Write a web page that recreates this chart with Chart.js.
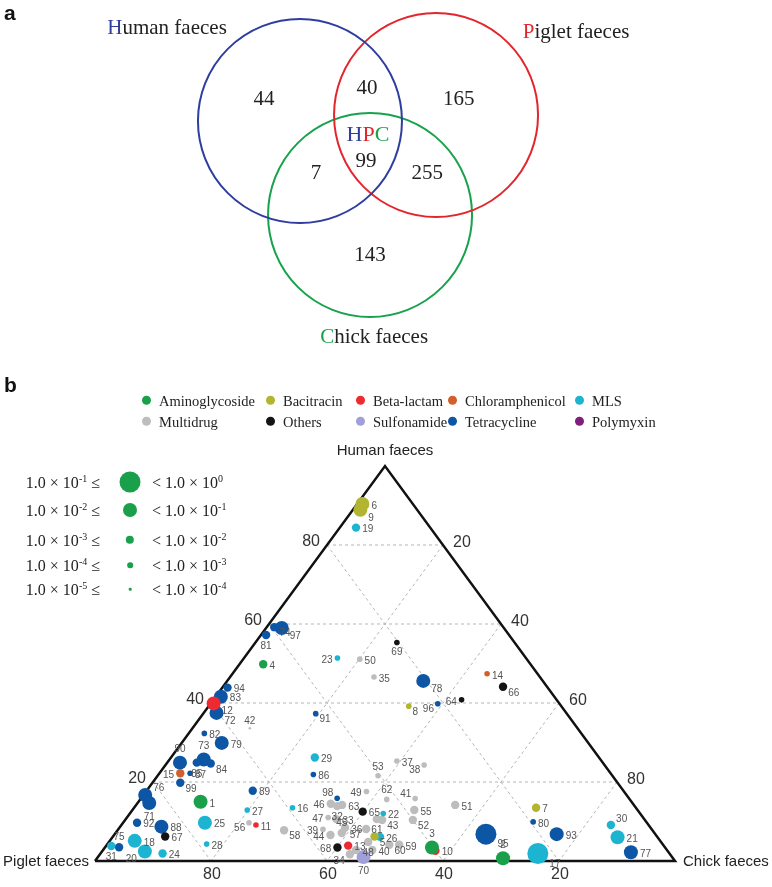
<!DOCTYPE html>
<html>
<head>
<meta charset="utf-8">
<script src="https://cdn.jsdelivr.net/npm/chart.js"></script>
<style>
  html, body { margin: 0; padding: 0; background: #fff; }
  #page { position: relative; width: 772px; height: 887px; overflow: hidden; }
  canvas { position: absolute; left: 0; }
  #venn { top: 0; }
  #tern { top: 360px; }
  .panel { position: absolute; left: 4px; font: bold 21px "Liberation Sans", Arial, sans-serif; color: #111; line-height: 1; }
  .cat { position: absolute; font: 14.5px "Liberation Serif", "Times New Roman", serif; color: #222; white-space: nowrap; line-height: 1; transform: translateY(-50%); }
  .cat i { display: inline-block; width: 9px; height: 9px; border-radius: 50%; margin-right: 8px; vertical-align: 1px; }
  .size { position: absolute; font: 16px "Liberation Serif", "Times New Roman", serif; color: #222; white-space: nowrap; line-height: 1; transform: translateY(-50%); }
  .size sup { font-size: 10px; vertical-align: 6px; }
  .dot { position: absolute; border-radius: 50%; transform: translate(-50%, -50%); }
</style>
</head>
<body>
<div id="page">
  <canvas id="venn" width="772" height="360"></canvas>
  <canvas id="tern" width="772" height="527"></canvas>
  <div class="panel" style="top:2px">a</div>
  <div class="panel" style="top:374px">b</div>
  <div id="legend"></div>
</div>
<script>
// ---------- data ----------
const vennSets = ['Human faeces', 'Piglet faeces', 'Chick faeces'];
const vennRegions = ['H', 'HP', 'P', 'HPC', 'HC', 'PC', 'C'];
const vennCounts = [44, 40, 165, 99, 7, 255, 143];

const categories = ['Aminoglycoside', 'Bacitracin', 'Beta-lactam', 'Chloramphenicol', 'MLS',
                    'Multidrug', 'Others', 'Sulfonamide', 'Tetracycline', 'Polymyxin'];
const categoryColors = ['#1a9f4b', '#b2b530', '#ec2a30', '#d1602c', '#1db4d2',
                        '#bdbdbd', '#141414', '#a19fd9', '#0d56a6', '#7e1f7b'];

// shared ARGs 1..99 : category index, relative abundance (%) in each faeces type
const argCategory = [
  0,0,0,0,1,1,1,1,1,2,
  2,2,2,3,3,4,4,4,4,4,
  4,4,4,4,4,4,4,4,4,4,
  4,5,5,5,5,5,5,5,5,5,
  5,5,5,5,5,5,5,5,5,5,
  5,5,5,5,5,5,5,5,5,5,
  5,5,5,6,6,6,6,6,6,7,
  8,8,8,8,8,8,8,8,8,8,
  8,8,8,8,8,8,8,8,8,8,
  8,8,8,8,8,8,8,8,8];
const humanPct = [
  15.0, 0.7, 3.4, 49.8, 6.2, 90.4, 13.5, 39.2, 88.9, 2.6,
  9.1, 39.9, 3.9, 47.4, 22.2, 13.5, 1.9, 5.1, 84.4, 2.4,
  6.0, 12.0, 51.4, 1.9, 9.7, 6.1, 12.9, 4.3, 26.2, 9.1,
  3.8, 13.9, 10.6, 1.7, 46.6, 8.4, 25.3, 24.3, 8.0, 2.8,
  15.8, 33.6, 10.4, 6.6, 7.1, 14.5, 11.0, 4.8, 17.6, 51.1,
  14.2, 10.4, 21.6, 2.8, 12.9, 9.7, 8.1, 7.8, 4.1, 4.1,
  10.6, 15.6, 14.2, 40.8, 12.5, 44.1, 6.2, 3.4, 55.3, 1.0,
  14.7, 37.5, 25.7, 59.2, 3.5, 16.7, 2.2, 45.6, 29.9, 9.9,
  57.2, 32.3, 41.6, 24.7, 24.9, 21.9, 22.2, 8.7, 17.8, 24.9,
  37.3, 9.7, 6.8, 43.9, 6.8, 39.8, 59.0, 15.9, 19.8];
const pigletPct = [
  74.3, 29.3, 40.2, 46.1, 48.7, 8.7, 17.2, 26.3, 9.8, 40.0,
  67.7, 59.6, 54.4, 8.7, 74.2, 59.2, 22.7, 90.6, 12.8, 90.2,
  6.9, 44.3, 32.5, 87.4, 76.2, 47.8, 67.3, 78.6, 49.0, 6.5,
  95.3, 51.3, 53.1, 55.2, 28.6, 52.7, 35.3, 31.1, 56.7, 50.8,
  36.9, 56.5, 45.3, 56.1, 53.9, 52.1, 54.3, 50.5, 44.4, 28.8,
  30.8, 40.0, 40.4, 53.6, 38.5, 68.6, 49.2, 63.5, 45.5, 47.2,
  46.1, 41.9, 50.3, 16.4, 47.6, 7.6, 84.8, 56.5, 20.3, 53.2,
  83.3, 60.3, 68.4, 39.5, 94.1, 83.0, 6.5, 20.6, 63.2, 19.5,
  41.9, 65.0, 57.5, 67.7, 70.0, 51.4, 72.5, 84.2, 63.9, 72.9,
  43.3, 87.9, 17.0, 55.2, 29.2, 21.0, 38.3, 50.3, 75.4];
const chickPct = [
  10.7, 70.0, 56.4, 4.1, 45.1, 0.9, 69.3, 34.5, 1.3, 57.4,
  23.2, 0.5, 41.7, 43.9, 3.6, 27.3, 75.4, 4.3, 2.8, 7.4,
  87.1, 43.7, 16.1, 10.7, 14.1, 46.1, 19.8, 17.1, 24.8, 84.4,
  0.9, 34.8, 36.3, 43.1, 24.8, 38.9, 39.4, 44.6, 35.3, 46.4,
  47.3, 9.9, 44.3, 37.3, 39.0, 33.4, 34.7, 44.7, 38.0, 20.1,
  55.0, 49.6, 38.0, 43.6, 48.6, 21.7, 42.7, 28.7, 50.4, 48.7,
  43.3, 42.5, 35.5, 42.8, 39.9, 48.3, 9.0, 40.1, 24.4, 45.8,
  2.0, 2.2, 5.9, 1.3, 2.4, 0.3, 91.3, 33.8, 6.9, 70.6,
  0.9, 2.7, 0.9, 7.6, 5.1, 26.7, 5.3, 7.1, 18.3, 2.2,
  19.4, 2.4, 76.2, 0.9, 64.0, 39.2, 2.7, 33.8, 4.8];
// abundance class: 1 = [1e-1,1e0), 2 = [1e-2,1e-1), ... 5 = [1e-5,1e-4)
const abundanceClass = [
  2,2,2,3,3,2,3,4,2,3,
  4,2,3,4,3,4,1,2,3,2,
  2,4,4,3,2,3,4,4,3,3,
  3,3,3,3,4,3,4,4,4,3,
  4,5,3,3,3,3,4,3,4,4,
  3,3,4,3,3,4,3,3,3,3,
  3,4,3,4,3,3,3,3,4,2,
  2,2,2,3,3,2,2,2,2,4,
  3,4,2,3,3,4,4,2,3,2,
  4,3,2,3,1,4,2,4,3];
const sizeClassExp = [['-1', '0'], ['-2', '-1'], ['-3', '-2'], ['-4', '-3'], ['-5', '-4']];
const axisTicks = [20, 40, 60, 80];
const ternTitles = ['Human faeces', 'Piglet faeces', 'Chick faeces'];

// ---------- styles / layout ----------
const sizeRadius = [10.5, 7, 4.2, 2.8, 1.3];
const vennColors = ['#2f3e9e', '#e3262d', '#17a24b'];
const serif = '"Liberation Serif", "Times New Roman", serif';
const sans = '"Liberation Sans", Arial, sans-serif';
const labelSide = {2:'t',3:'t',5:'rb',8:'rb',9:'rb',12:'rb',15:'l',17:'rb',20:'lb',23:'l',30:'rt',31:'b',
  32:'b',34:'lb',38:'lb',39:'l',41:'lt',42:'t',43:'rb',44:'l',45:'t',46:'l',47:'l',48:'b',49:'l',52:'rb',
  53:'t',54:'none',56:'lb',57:'lb',58:'rb',60:'rb',61:'b',62:'t',64:'l',66:'rb',68:'l',69:'b',70:'b',71:'b',
  72:'rb',73:'t',74:'rb',75:'t',76:'rt',78:'rb',81:'b',84:'rb',85:'b',90:'t',91:'rb',95:'rb',96:'lb',97:'rb',
  98:'lt',99:'rb'};

const baseOpts = (xmin, xmax, ymin, ymax) => ({
  responsive: false,
  animation: false,
  events: [],
  layout: { padding: 0, autoPadding: false },
  plugins: { legend: { display: false }, tooltip: { enabled: false } },
  scales: {
    x: { type: 'linear', display: false, min: xmin, max: xmax },
    y: { type: 'linear', display: false, min: ymin, max: ymax }
  }
});

function drawParts(ctx, parts, cx, cy) {
  const w = parts.reduce((s, p) => s + ctx.measureText(p[0]).width, 0);
  let x = cx - w / 2;
  ctx.textAlign = 'left';
  parts.forEach(p => { ctx.fillStyle = p[1]; ctx.fillText(p[0], x, cy); x += ctx.measureText(p[0]).width; });
}

// ---------- venn (units: circle radius = 1) ----------
const VU = 102;
const vennCenters = [[-0.667, 0.284], [0.667, 0.343], [0.02, -0.637]];
const regionAnchor = { H: [-1.02, 0.5], HP: [-0.01, 0.6], P: [0.89, 0.5], HPC: [-0.02, -0.11],
                       HC: [-0.51, -0.235], PC: [0.58, -0.235], C: [0.02, -1.03] };
const setAnchor = [[-1.97, 1.19], [2.04, 1.15], [0.06, -1.84]];

const vennPlugin = {
  id: 'vennText',
  afterDatasetsDraw(chart) {
    const { ctx, scales: { x, y } } = chart;
    const P = (a) => [x.getPixelForValue(a[0]), y.getPixelForValue(a[1])];
    ctx.save();
    ctx.textBaseline = 'middle';
    ctx.font = '21px ' + serif;
    vennSets.forEach((name, i) => {
      const [px, py] = P(setAnchor[i]);
      drawParts(ctx, [[name[0], vennColors[i]], [name.slice(1), '#222']], px, py);
    });
    vennRegions.forEach((r, i) => {
      const [px, py] = P(regionAnchor[r]);
      ctx.fillStyle = '#222'; ctx.textAlign = 'center';
      ctx.fillText(String(vennCounts[i]), px, py);
    });
    const [hx, hy] = P([0.0, 0.147]);
    ctx.font = '22px ' + serif;
    drawParts(ctx, [['H', vennColors[0]], ['P', vennColors[1]], ['C', vennColors[2]]], hx, hy);
    ctx.restore();
  }
};

new Chart(document.getElementById('venn'), {
  type: 'scatter',
  data: {
    datasets: vennSets.map((s, i) => ({
      label: s,
      data: [{ x: vennCenters[i][0], y: vennCenters[i][1] }],
      pointRadius: VU,
      pointBackgroundColor: 'rgba(0,0,0,0)',
      pointBorderColor: vennColors[i],
      pointBorderWidth: 2,
      clip: false
    }))
  },
  options: baseOpts(-368 / VU, 404 / VU, -210 / VU, 150 / VU),
  plugins: [vennPlugin]
});

// ---------- ternary ----------
// page pixels of the triangle: Piglet vertex x, Chick vertex x, base y, px per percent
const TRI = { left: 95, right: 675, base: 861, top: 360, hUnit: 3.95 };
const xUnit = (TRI.right - TRI.left) / 100;
const baseC = TRI.base - TRI.top;

function toXY(h, p, c) {
  const s = h + p + c;
  const H = h / s * 100, C = c / s * 100;
  return { x: C + H / 2, y: H };
}

const gridSets = [];
axisTicks.forEach(t => {
  gridSets.push([toXY(t, 100 - t, 0), toXY(t, 0, 100 - t)]);
  gridSets.push([toXY(100 - t, t, 0), toXY(0, t, 100 - t)]);
  gridSets.push([toXY(100 - t, 0, t), toXY(0, 100 - t, t)]);
});

const pointSets = categories.map((cat, ci) => {
  const pts = [], radii = [];
  argCategory.forEach((k, i) => {
    if (k !== ci) return;
    const q = toXY(humanPct[i], pigletPct[i], chickPct[i]);
    pts.push({ x: q.x, y: q.y, id: i + 1 });
    radii.push(sizeRadius[abundanceClass[i] - 1]);
  });
  return {
    label: cat, data: pts, order: 0,
    pointRadius: radii, pointBorderWidth: 0,
    pointBackgroundColor: categoryColors[ci], showLine: false
  };
});

const ternPlugin = {
  id: 'ternText',
  afterDatasetsDraw(chart) {
    const { ctx, scales: { x, y } } = chart;
    const P = (h, p, c) => { const q = toXY(h, p, c); return [x.getPixelForValue(q.x), y.getPixelForValue(q.y)]; };
    ctx.save();
    ctx.textBaseline = 'middle';
    // point labels
    ctx.font = '10px ' + sans;
    ctx.fillStyle = '#555';
    pointSets.forEach((ds, di) => {
      chart.getDatasetMeta(di).data.forEach((el, j) => {
        const id = ds.data[j].id, r = ds.pointRadius[j];
        const side = labelSide[id] || 'r';
        if (side === 'none') return;
        let dx = r + 2, dy = 2, al = 'left';
        if (side === 'rb') { dx = r + 1; dy = r * 0.6 + 4; }
        if (side === 'rt') { dx = r + 1; dy = -r * 0.6 - 3; }
        if (side === 'l') { dx = -r - 2; al = 'right'; }
        if (side === 'lb') { dx = -r - 1; dy = r * 0.6 + 4; al = 'right'; }
        if (side === 'lt') { dx = -r - 1; dy = -r * 0.6 - 3; al = 'right'; }
        if (side === 't') { dx = 0; dy = -r - 6; al = 'center'; }
        if (side === 'b') { dx = 0; dy = r + 7; al = 'center'; }
        ctx.textAlign = al;
        ctx.fillText(String(id), el.x + dx, el.y + dy);
      });
    });
    // tick labels
    ctx.font = '16px ' + sans;
    ctx.fillStyle = '#333';
    axisTicks.forEach(t => {
      let [a, b] = P(t, 100 - t, 0);
      ctx.textAlign = 'right'; ctx.fillText(String(t), a - 7, b - 3);
      [a, b] = P(t, 0, 100 - t);
      ctx.textAlign = 'left'; ctx.fillText(String(100 - t), a + 10, b - 2);
      [a, b] = P(0, t, 100 - t);
      ctx.textAlign = 'center'; ctx.fillText(String(t), a + 1, b + 14);
    });
    // vertex titles
    ctx.font = '15px ' + sans;
    ctx.fillStyle = '#222';
    let [a, b] = P(100, 0, 0);
    ctx.textAlign = 'center'; ctx.fillText(ternTitles[0], a, b - 15);
    [a, b] = P(0, 100, 0);
    ctx.textAlign = 'right'; ctx.fillText(ternTitles[1], a - 6, b + 1);
    [a, b] = P(0, 0, 100);
    ctx.textAlign = 'left'; ctx.fillText(ternTitles[2], a + 8, b + 1);
    ctx.restore();
  }
};

const frame = [toXY(0, 100, 0), toXY(0, 0, 100), toXY(100, 0, 0), toXY(0, 100, 0)];

new Chart(document.getElementById('tern'), {
  type: 'scatter',
  data: {
    datasets: [
      ...pointSets,
      { label: 'frame', data: frame, showLine: true, borderColor: '#111', borderWidth: 2.5,
        pointRadius: 0, order: 1, borderJoinStyle: 'miter' },
      ...gridSets.map(g => ({ label: 'grid', data: g, showLine: true, borderColor: '#b5b5b5',
        borderWidth: 1, borderDash: [3, 3], pointRadius: 0, order: 2 }))
    ]
  },
  options: baseOpts(-TRI.left / xUnit, (772 - TRI.left) / xUnit,
                    -(527 - baseC) / TRI.hUnit, baseC / TRI.hUnit),
  plugins: [ternPlugin]
});

// ---------- HTML legends ----------
const legend = document.getElementById('legend');
const legendColX = [146, 270, 360, 452, 579];
const legendRowY = [401, 422];
categories.forEach((c, i) => {
  const d = document.createElement('div');
  d.className = 'cat';
  d.style.left = (legendColX[i % 5] - 4) + 'px';
  d.style.top = legendRowY[Math.floor(i / 5)] + 'px';
  d.innerHTML = '<i style="background:' + categoryColors[i] + '"></i>' + c;
  legend.appendChild(d);
});
const sizeRowY = [482, 510, 540, 565, 589];
sizeClassExp.forEach((e, i) => {
  const l = document.createElement('div');
  l.className = 'size';
  l.style.right = (772 - 100) + 'px';
  l.style.top = sizeRowY[i] + 'px';
  l.innerHTML = '1.0 × 10<sup>' + e[0] + '</sup> ≤';
  legend.appendChild(l);
  const r = document.createElement('div');
  r.className = 'size';
  r.style.left = '152px';
  r.style.top = sizeRowY[i] + 'px';
  r.innerHTML = '&lt; 1.0 × 10<sup>' + e[1] + '</sup>';
  legend.appendChild(r);
  const dot = document.createElement('div');
  dot.className = 'dot';
  const rr = sizeRadius[i];
  dot.style.cssText = 'left:130px;top:' + sizeRowY[i] + 'px;width:' + (2 * rr) + 'px;height:' + (2 * rr) +
    'px;background:' + categoryColors[0];
  legend.appendChild(dot);
});
</script>
</body>
</html>
